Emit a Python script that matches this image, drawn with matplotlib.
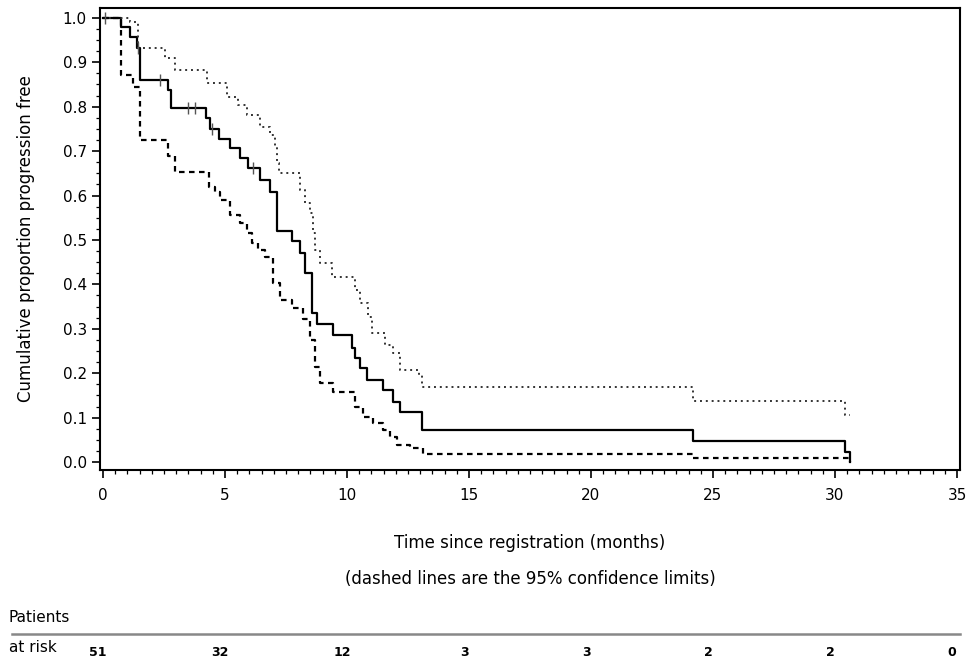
import matplotlib.pyplot as plt
import matplotlib.transforms as mtransforms
from matplotlib.ticker import MultipleLocator, FormatStrFormatter

# Kaplan-Meier estimate (step times in months, survival after step)
km_t = [0, 0.74, 1.11, 1.39, 1.52, 2.66, 2.79, 4.22, 4.39, 4.75, 5.20, 5.61, 5.94,
        6.43, 6.84, 7.13, 7.75, 8.07, 8.28, 8.57, 8.77, 9.43, 10.20, 10.33, 10.53,
        10.82, 11.47, 11.89, 12.17, 13.07, 24.2, 30.4, 30.6]
km_s = [1.0, 0.980, 0.957, 0.932, 0.860, 0.838, 0.797, 0.775, 0.750, 0.727, 0.707,
        0.685, 0.662, 0.635, 0.608, 0.520, 0.497, 0.470, 0.425, 0.335, 0.310, 0.285,
        0.257, 0.234, 0.212, 0.185, 0.162, 0.135, 0.113, 0.072, 0.047, 0.022, 0.0]

# upper 95% limit (dotted)
up_t = [0, 1.11, 1.45, 2.56, 2.95, 4.26, 5.08, 5.53, 5.90, 6.43, 6.84, 7.05, 7.13,
        7.21, 8.07, 8.28, 8.48, 8.61, 8.69, 8.89, 9.38, 10.33, 10.53, 10.86, 11.03,
        11.55, 11.89, 12.17, 12.95, 13.07, 24.2, 30.4, 30.6]
up_s = [1.0, 0.99, 0.932, 0.91, 0.883, 0.853, 0.822, 0.804, 0.782, 0.755, 0.736,
        0.709, 0.673, 0.65, 0.613, 0.583, 0.56, 0.516, 0.477, 0.448, 0.417, 0.387,
        0.358, 0.327, 0.29, 0.263, 0.245, 0.207, 0.196, 0.169, 0.137, 0.105, 0.105]

# lower 95% limit (dashed)
lo_t = [0, 0.74, 1.23, 1.52, 2.66, 2.95, 4.34, 4.59, 4.79, 5.20, 5.61, 5.90, 6.11,
        6.35, 6.64, 6.97, 7.25, 7.75, 8.20, 8.48, 8.69, 8.89, 9.43, 10.33, 10.66,
        11.07, 11.47, 11.76, 12.05, 12.58, 13.11, 24.2, 30.6]
lo_s = [1.0, 0.872, 0.845, 0.725, 0.69, 0.653, 0.62, 0.607, 0.59, 0.556, 0.538,
        0.516, 0.493, 0.477, 0.461, 0.403, 0.365, 0.347, 0.322, 0.275, 0.214, 0.178,
        0.158, 0.124, 0.101, 0.088, 0.072, 0.056, 0.038, 0.031, 0.018, 0.009, 0.0]

# censored observations
cens_t = [0.1, 1.45, 2.34, 3.48, 3.77, 4.45, 6.15]
cens_s = [1.0, 0.932, 0.86, 0.797, 0.797, 0.75, 0.662]

risk_t = [0, 5, 10, 15, 20, 25, 30, 35]
risk_n = [51, 32, 12, 3, 3, 2, 2, 0]

fig = plt.figure(figsize=(9.67, 6.65), dpi=100)
ax = fig.add_axes([0.1034, 0.2932, 0.8893, 0.6947])

ax.step(km_t, km_s, where='post', color='black', linewidth=1.6)
ax.step(up_t, up_s, where='post', color='#333333', linewidth=1.4,
        linestyle=(0, (1, 2)))
ax.step(lo_t, lo_s, where='post', color='black', linewidth=1.6,
        linestyle=(0, (2.5, 2)))
ax.plot(cens_t, cens_s, linestyle='none', marker='|', markersize=9,
        markeredgewidth=1.0, color='#555555')

ax.set_xlim(-0.12, 35.12)
ax.set_ylim(-0.018, 1.022)
ax.xaxis.set_major_locator(MultipleLocator(5))
ax.xaxis.set_minor_locator(MultipleLocator(0.5))
ax.yaxis.set_major_locator(MultipleLocator(0.1))
ax.yaxis.set_minor_locator(MultipleLocator(0.025))
ax.yaxis.set_major_formatter(FormatStrFormatter('%.1f'))
ax.tick_params(which='major', direction='out', length=6, width=1.2, labelsize=11)
ax.tick_params(axis='x', which='major', pad=7)
ax.tick_params(which='minor', direction='out', length=3, width=0.9)
for sp in ax.spines.values():
    sp.set_linewidth(1.5)

ax.set_ylabel('Cumulative proportion progression free', fontsize=12, labelpad=20)
ax.set_xlabel('Time since registration (months)\n(dashed lines are the 95% confidence limits)',
              fontsize=12, labelpad=22, linespacing=2.3)

# patients at risk table
trans = mtransforms.blended_transform_factory(ax.transData, fig.transFigure)
fig.text(0.009, 1 - 618 / 665, 'Patients', fontsize=11, va='center', ha='left')
fig.text(0.009, 1 - 648 / 665, 'at risk', fontsize=11, va='center', ha='left')
fig.add_artist(plt.Line2D([12 / 967, 960 / 967], [1 - 634 / 665, 1 - 634 / 665],
                          color='#888888', linewidth=1.8))
for t, n in zip(risk_t, risk_n):
    ax.text(t - 0.2, 1 - 652 / 665, str(n), transform=trans, fontsize=9,
            fontweight='bold', ha='center', va='center')

fig.savefig('out.png', dpi=100)
